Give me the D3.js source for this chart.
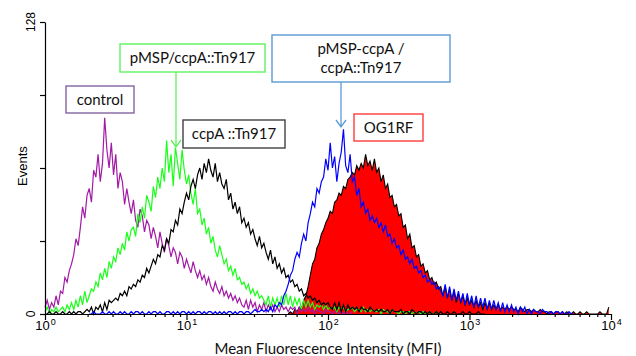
<!DOCTYPE html>
<html>
<head>
<meta charset="utf-8">
<script src="https://cdn.jsdelivr.net/npm/d3@7"></script>
<style>
  body { margin: 0; background: #fff; }
  svg { display: block; }
  .axis path, .axis line { stroke: #000; stroke-width: 1.2; }
  .tickLabel { font-family: "Liberation Sans", Arial, sans-serif; font-size: 13px; }
  .note { font-family: Lato, "Open Sans", sans-serif; font-size: 15px; fill: #111; }
</style>
</head>
<body>
<script>
// 256 channels over 4 decades (64 channels per decade), counts per channel
const channelsPerDecade = 64;

const controlStart = 0;
const controlCounts = [
  3,6,2,5,3,8,4,10,9,16, 14,19,22,26,33,30,38,47,42,52,
  55,49,63,60,70,58,66,86,72,64, 75,61,70,55,62,58,48,55,49,44,
  50,41,38,46,43,36,41,39,33,38, 34,29,36,31,27,33,30,25,29,27,
  22,27,25,20,24,21,18,23,19,16, 19,15,17,13,16,12,10,14,11,9,
  12,8,10,7,9,6,8,5,7,4, 3,6,2,6,3,5,1,4,2,5,
  1,4,2,4,1,3,1,4,2,3, 1,3,2,3,0,3,1,2,1,3,
  1,2,0,2,1,1,0,2,1,1, 0,1,1,0,1,0,1,0,0,1
];

const pmspStart = 0;
const pmspCounts = [
  1,3,0,2,1,3,1,2,3,1, 4,2,5,2,6,3,8,4,10,5,
  8,11,10,14,12,18,15,20,16,23, 20,25,23,29,26,31,28,36,32,37,
  38,34,44,40,47,42,52,49,45,56, 51,60,55,64,58,76,62,70,56,73,
  66,59,72,63,57,61,53,48,55,44, 46,39,42,35,38,31,34,28,25,30,
  26,22,24,19,21,17,20,15,16,13, 14,11,13,9,11,8,10,7,8,6,
  4,8,3,7,4,7,3,8,4,9, 4,8,3,7,4,7,2,6,3,6,
  3,5,2,4,3,4,2,4,2,3, 2,3,1,3,2,3,1,2,2,3,
  1,2,2,1,3,1,2,1,2,1, 1,2,0,2,1,1,0,2,1,1,
  0,1,1,0,1,1,0,1,0,1, 0,1,0,0,1,0,0,1,0,0
];

const ccpaStart = 0;
const ccpaCounts = [
  0,0,1,0,0,1,0,0,1,0, 0,1,0,1,0,1,1,0,1,2,
  1,3,0,3,2,4,1,5,2,6, 5,6,7,6,9,8,10,8,12,11,
  13,12,15,14,17,16,20,18,21,24, 22,26,25,30,28,33,31,37,36,41,
  39,46,44,49,53,50,56,59,55,61, 64,59,66,62,68,63,60,66,58,62,
  57,55,59,50,53,46,49,44,47,40, 42,38,40,35,37,33,30,34,29,31,
  27,24,28,22,25,20,22,18,20,16, 17,14,15,12,13,10,11,8,9,7,
  8,6,7,5,6,4,5,4,5,3, 2,5,2,5,1,4,1,4,2,3,
  2,3,1,3,2,2,1,3,2,1, 2,1,2,1,1,2,0,2,1,1,
  1,2,0,1,1,0,2,1,0,1, 1,0,1,0,1,0,0,1,0,1,
  0,0,1,0,0,1,0,0,0,1, 0,0,1,0,0,0,1,0,0,0
];

const pmspCcpaStart = 20;
const pmspCcpaCounts = [
  0,0,1,0,0,0,1,0,0,1, 0,1,0,0,1,0,1,0,0,1,
  0,1,1,0,1,0,0,1,0,1, 1,0,1,0,0,1,1,0,1,0,
  1,0,1,1,0,1,0,1,0,1, 1,0,1,0,1,1,0,1,0,1,
  0,1,0,1,1,0,1,0,1,1, 0,1,1,0,1,2,1,1,2,1,
  2,1,3,1,4,3,5,4,8,10, 13,17,19,24,27,25,31,35,32,40,
  44,49,47,55,53,58,60,68,63,75, 64,69,58,66,71,81,65,62,70,58,
  60,52,55,47,49,44,46,41,43,40, 42,38,40,36,39,34,35,31,33,29,
  30,26,28,24,25,22,24,20,21,18, 19,16,17,14,15,13,14,11,12,10,
  8,13,7,12,6,11,6,10,5,9, 4,9,4,8,3,8,3,7,3,7,
  2,6,2,6,2,5,1,5,1,4, 1,4,1,3,0,3,1,3,0,2,
  0,2,1,1,0,2,1,1,0,1, 0,1,1,0,1,0,0,1,0,0
];

const og1rfStart = 110;
const og1rfCounts = [
  0,1,0,2,1,3,2,6,8,12, 17,22,24,29,31,35,37,40,42,45,
  44,49,50,53,52,56,55,59,60,62, 61,65,63,66,64,70,65,67,63,68,
  62,64,58,61,55,57,51,52,47,48, 43,44,38,39,33,35,29,30,25,26,
  21,22,18,19,15,16,13,14,11,12, 8,12,7,11,6,10,5,9,5,8,
  4,7,4,6,3,6,3,5,2,5, 2,5,2,4,2,4,2,3,2,3,
  2,3,2,2,1,3,2,1,2,2, 1,2,1,1,2,1,1,0,1,1,
  0,1,1,0,1,0,1,0,0,1, 0,0,1,0,0,1,0,0,0,0,
  0,1,0,0,0,3
];

const xMajor = [1, 10, 100, 1000, 10000];
const yTicks = [0, 32, 64, 96, 128];
const yLabels = [0, 128];

const width = 636, height = 356;
const svg = d3.select('body').append('svg').attr('width', width).attr('height', height);

const x = d3.scaleLog().domain([1, 10000]).range([45, 611]);
const y = d3.scaleLinear().domain([0, 128]).range([314, 22]);

function toPoints(start, counts) {
  return counts.map((c, i) => ({ v: Math.pow(10, (start + i) / channelsPerDecade), c: c }));
}

const line = d3.line().x(d => x(d.v)).y(d => y(d.c));
const area = d3.area().x(d => x(d.v)).y0(y(0)).y1(d => y(d.c));

const plot = svg.append('g');

// filled OG1RF histogram with black outline
const og1rf = toPoints(og1rfStart, og1rfCounts);
plot.append('path').datum(og1rf).attr('d', area).attr('fill', '#ff0000');
plot.append('path').datum(og1rf).attr('d', line)
  .attr('fill', 'none').attr('stroke', '#000').attr('stroke-width', 1.1);

const series = [
  { start: controlStart, counts: controlCounts, color: '#a21aa6' },
  { start: pmspStart, counts: pmspCounts, color: '#1aff1a' },
  { start: ccpaStart, counts: ccpaCounts, color: '#000000' },
  { start: pmspCcpaStart, counts: pmspCcpaCounts, color: '#0000ff' }
];

plot.selectAll('path.curve')
  .data(series)
  .enter()
  .append('path')
  .attr('class', 'curve')
  .attr('d', d => line(toPoints(d.start, d.counts)))
  .attr('fill', 'none')
  .attr('stroke', d => d.color)
  .attr('stroke-width', 1.2);

// x axis: major and minor log ticks
const xMinor = [];
for (let e = 0; e < 4; e++) for (let m = 2; m < 10; m++) xMinor.push(m * Math.pow(10, e));

svg.append('g').attr('class', 'axis').attr('transform', `translate(0,${y(0)})`)
  .call(d3.axisBottom(x).tickValues(xMinor).tickSize(3).tickFormat('').tickSizeOuter(0));

const xAxis = svg.append('g').attr('class', 'axis').attr('transform', `translate(0,${y(0)})`)
  .call(d3.axisBottom(x).tickValues(xMajor).tickSize(6).tickFormat('').tickSizeOuter(0));

xAxis.selectAll('.tick').append('text')
  .attr('class', 'tickLabel')
  .attr('fill', '#000')
  .attr('y', 16)
  .attr('text-anchor', 'middle')
  .each(function (d) {
    const t = d3.select(this);
    t.append('tspan').text('10');
    t.append('tspan').attr('dx', 1).attr('dy', -5).style('font-size', '9px').text(Math.round(Math.log10(d)));
  });

// y axis
const yAxis = svg.append('g').attr('class', 'axis').attr('transform', `translate(${x(1)},0)`)
  .call(d3.axisLeft(y).tickValues(yTicks).tickSize(5).tickFormat('').tickSizeOuter(0));

yAxis.selectAll('.ylab')
  .data(yLabels)
  .enter()
  .append('text')
  .attr('class', 'tickLabel')
  .style('font-size', '12px')
  .attr('fill', '#000')
  .attr('text-anchor', 'middle')
  .attr('transform', d => `translate(-10,${y(d)}) rotate(-90)`)
  .text(d => d);

svg.append('text')
  .attr('class', 'tickLabel')
  .style('font-size', '13px')
  .attr('text-anchor', 'middle')
  .attr('transform', 'translate(27,166) rotate(-90)')
  .text('Events');

svg.append('text')
  .attr('class', 'note')
  .attr('x', 328).attr('y', 354)
  .attr('text-anchor', 'middle')
  .text('Mean Fluorescence Intensity (MFI)');

// annotation boxes
const notes = [
  { lines: ['control'], box: [66, 86, 68, 27], color: '#8064a2' },
  { lines: ['pMSP/ccpA::Tn917'], box: [120, 44, 145, 28], color: '#5ef25e', arrow: [176, 72, 147] },
  { lines: ['ccpA ::Tn917'], box: [183, 120, 102, 28], color: '#404040' },
  { lines: ['pMSP-ccpA /', 'ccpA::Tn917'], box: [272, 35, 178, 47], color: '#5b9bd5', arrow: [341, 82, 127] },
  { lines: ['OG1RF'], box: [354, 114, 69, 27], color: '#ff3b3b' }
];

const note = svg.selectAll('g.noteBox').data(notes).enter().append('g').attr('class', 'noteBox');

note.append('rect')
  .attr('x', d => d.box[0]).attr('y', d => d.box[1])
  .attr('width', d => d.box[2]).attr('height', d => d.box[3])
  .attr('fill', '#fff')
  .attr('stroke', d => d.color).attr('stroke-width', 1.4);

note.each(function (d) {
  const g = d3.select(this);
  const cx = d.box[0] + d.box[2] / 2;
  const lh = 19;
  const top = d.box[1] + d.box[3] / 2 - (d.lines.length - 1) * lh / 2 + 5;
  d.lines.forEach((l, i) => {
    g.append('text').attr('class', 'note')
      .attr('x', cx).attr('y', top + i * lh)
      .attr('text-anchor', 'middle').text(l);
  });
  if (d.arrow) {
    const [ax, y1, y2] = d.arrow;
    g.append('path')
      .attr('d', `M${ax},${y1}V${y2}M${ax - 5},${y2 - 7}L${ax},${y2}L${ax + 5},${y2 - 7}`)
      .attr('fill', 'none').attr('stroke', d.color).attr('stroke-width', 1.3);
  }
});
</script>
</body>
</html>
